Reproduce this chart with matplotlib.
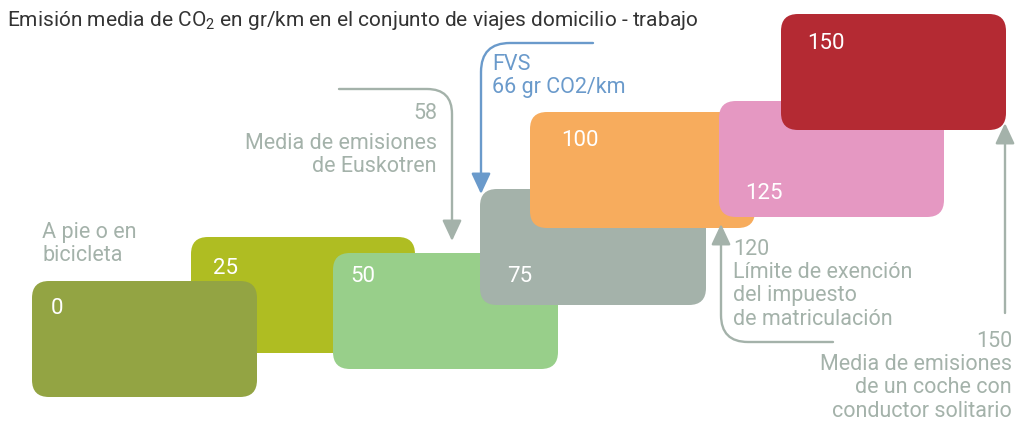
import matplotlib.pyplot as plt
from matplotlib.patches import FancyBboxPatch, FancyArrowPatch
from matplotlib.path import Path

plt.rcParams['font.family'] = ['Roboto', 'DejaVu Sans']
plt.rcParams['mathtext.fontset'] = 'custom'
plt.rcParams['mathtext.rm'] = 'Roboto'
plt.rcParams['mathtext.it'] = 'Roboto'

# Datos: emisiones medias (gr CO2/km) por modo de transporte
valores = [0, 25, 50, 75, 100, 125, 150]
colores = ['#93A443', '#AFBD22', '#98CF8A', '#A4B2AA', '#F7AC5D', '#E598C2', '#B42A33']
referencias = [58, 66, 120, 150]

# Maquetación en píxeles: (izquierda, arriba, ancho, alto) y posición de la etiqueta
cajas = [(32, 281, 225, 116), (191, 237, 224, 116), (333, 253, 225, 116),
         (480, 189, 226, 116), (530, 112, 225, 116), (719, 101, 225, 116),
         (781, 14, 225, 116)]
etiquetas = [(19, 28), (22, 31), (17, 24), (27, 88), (31, 28), (26, 92), (26, 29)]
orden = [1, 0, 2, 3, 4, 5, 6]

gris = '#A4B2AA'
azul = '#6A9ACB'

fig = plt.figure(figsize=(10.36, 4.25), dpi=100)
ax = fig.add_axes([0, 0, 1, 1])
ax.set_xlim(0, 1036)
ax.set_ylim(425, 0)
ax.axis('off')

for i in orden:
    x, y, w, h = cajas[i]
    ax.add_patch(FancyBboxPatch((x, y), w, h, boxstyle='round,pad=0,rounding_size=17',
                                facecolor=colores[i], edgecolor='none'))
    dx, dy = etiquetas[i]
    ax.text(x + dx, y + dy, str(valores[i]), color='white', fontsize=16,
            ha='left', va='center')


def flecha(puntos, codigos, color):
    p = FancyArrowPatch(path=Path(puntos, codigos), arrowstyle='-|>,head_length=0.9,head_width=0.42',
                        mutation_scale=14, color=color, lw=1.7, shrinkA=0, shrinkB=0)
    ax.add_patch(p)


M, L, C = Path.MOVETO, Path.LINETO, Path.CURVE3
# Media Euskotren
flecha([(339, 89), (427, 89), (452, 89), (452, 114), (452, 241)], [M, L, C, C, L], gris)
# FVS
flecha([(593, 43), (510, 43), (481, 43), (481, 72), (481, 194)], [M, L, C, C, L], azul)
# Límite de exención
flecha([(833, 342), (748, 342), (721, 342), (721, 315), (721, 224)], [M, L, C, C, L], gris)
# Coche con conductor solitario
flecha([(1005, 313), (1005, 123)], [M, L], gris)

ax.text(7, 20, r'Emisión media de CO$_2$ en gr/km en el conjunto de viajes domicilio - trabajo',
        fontsize=15, color='#333333', ha='left', va='center')

ax.text(42, 222, 'A pie o en\nbicicleta', fontsize=15.5, color=gris, ha='left', va='top',
        linespacing=1.1)
ax.text(437, 103, str(referencias[0]), fontsize=15.5, color=gris, ha='right', va='top')
ax.text(437, 133, 'Media de emisiones\nde Euskotren', fontsize=15.5, color=gris, ha='right',
        va='top', linespacing=1.1)
ax.text(492, 54, 'FVS\n%d gr CO2/km' % referencias[1], fontsize=15.5, color=azul, ha='left',
        va='top', linespacing=1.1)
ax.text(733, 239, '%d\nLímite de exención\ndel impuesto\nde matriculación' % referencias[2],
        fontsize=15.5, color=gris, ha='left', va='top', linespacing=1.14)
ax.text(1012, 331, '%d\nMedia de emisiones\nde un coche con\nconductor solitario' % referencias[3],
        fontsize=15.5, color=gris, ha='right', va='top', linespacing=1.14)

plt.savefig('out.png', dpi=100)
